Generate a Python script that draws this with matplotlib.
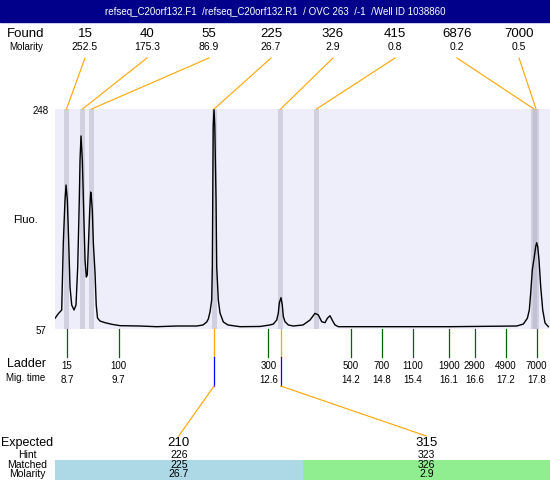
import numpy as np
import matplotlib.pyplot as plt
from matplotlib.patches import Rectangle

plt.rcParams['font.family'] = ['Liberation Sans', 'DejaVu Sans']

title = "refseq_C20orf132.F1  /refseq_C20orf132.R1  / OVC 263  /-1  /Well ID 1038860"

# electropherogram trace: migration time (s) vs fluorescence
mig_time = [8.467, 8.526, 8.597, 8.628, 8.661, 8.681, 8.706, 8.733, 8.758, 8.791,
            8.836, 8.874, 8.907, 8.938, 8.952, 8.971, 8.997, 9.024, 9.049, 9.074,
            9.093, 9.113, 9.140, 9.159, 9.171, 9.190, 9.210, 9.243, 9.266, 9.291,
            9.340, 9.436, 9.566, 9.727, 10.115, 10.438, 10.826, 11.214, 11.336, 11.407,
            11.438, 11.471, 11.504, 11.516, 11.524, 11.533, 11.549, 11.564, 11.588, 11.601,
            11.632, 11.665, 11.729, 11.820, 12.053, 12.440, 12.634, 12.698, 12.764, 12.795,
            12.814, 12.847, 12.872, 12.892, 12.925, 12.989, 13.086, 13.274, 13.409, 13.506,
            13.570, 13.636, 13.700, 13.745, 13.797, 13.849, 13.894, 13.958, 14.436, 16.122,
            17.415, 17.543, 17.621, 17.659, 17.686, 17.717, 17.737, 17.756, 17.783, 17.802,
            17.822, 17.847, 17.880, 17.919, 17.964, 18.028]
fluo = [66.3, 70.0, 73.5, 131.7, 169.0, 182.0, 169.0, 131.7, 93.5, 77.8,
        73.5, 77.8, 110.8, 169.0, 203.7, 224.6, 203.7, 157.7, 116.9, 102.1,
        103.9, 128.2, 160.3, 175.9, 171.6, 160.3, 131.7, 105.6, 77.8, 66.5,
        63.9, 62.5, 61.1, 59.9, 59.6, 59.0, 59.6, 59.6, 60.5, 63.1,
        65.7, 71.8, 82.2, 110.8, 169.0, 232.4, 248.0, 232.4, 169.0, 110.8,
        82.2, 70.9, 63.1, 60.5, 59.0, 59.2, 60.5, 61.3, 64.8, 70.9,
        79.6, 84.2, 77.8, 67.7, 63.3, 60.5, 59.6, 60.5, 64.8, 70.6,
        69.2, 63.3, 62.5, 66.3, 68.5, 63.9, 60.5, 59.0, 59.0, 59.0,
        59.6, 61.3, 66.3, 73.5, 88.3, 108.2, 114.3, 119.8, 128.5, 131.9,
        128.5, 116.9, 93.7, 73.5, 62.2, 59.0]

# found peaks
found_size = ["15", "40", "55", "225", "326", "415", "6876", "7000"]
found_molarity = ["252.5", "175.3", "86.9", "26.7", "2.9", "0.8", "0.2", "0.5"]
found_time = [8.69, 9.00, 9.175, 11.55, 12.84, 13.535, 17.75, 17.79]

# ladder
ladder_size = ["15", "100", "300", "500", "700", "1100", "1900", "2900", "4900", "7000"]
ladder_time = [8.7, 9.7, 12.6, 14.2, 14.8, 15.4, 16.1, 16.6, 17.2, 17.8]

# expected products
expected = ["210", "315"]
hint = ["226", "323"]
matched = ["225", "326"]
matched_molarity = ["26.7", "2.9"]
matched_time = [11.55, 12.84]
matched_colors = ["#add8e6", "#90ee90"]

fig = plt.figure(figsize=(5.5, 4.8), dpi=100)

# trace panel
ax = fig.add_axes([55 / 550, 151 / 480, 495 / 550, 220 / 480])
ax.set_facecolor('#eeeefa')
ax.set_xlim(8.467, 18.06)
ax.set_ylim(57, 248)
for s in ax.spines.values():
    s.set_visible(False)
ax.set_xticks([])
ax.set_yticks([])
for t in found_time:
    ax.axvspan(t - 0.05, t + 0.05, color='#b4b4c8', alpha=0.5, lw=0)
ax.plot(mig_time, fluo, color='black', lw=1.0)

# overlay in pixel coordinates for the text rows
lay = fig.add_axes([0, 0, 1, 1], zorder=3)
lay.set_xlim(0, 550)
lay.set_ylim(480, 0)
lay.axis('off')


def px(t):
    # x pixel of a migration time, through the trace axes
    return ax.transData.transform((t, 57))[0]


lay.add_patch(Rectangle((0, 0), 550, 22, color='#00008b'))
lay.text(275, 12, title, color='white', fontsize=7, ha='center', va='center')

# found row
lay.text(26, 34, "Found", fontsize=9.5, ha='center', va='center')
lay.text(26, 47, "Molarity", fontsize=7, ha='center', va='center')
for i, (sz, mol, t) in enumerate(zip(found_size, found_molarity, found_time)):
    x = 85 + 62 * i
    lay.text(x, 34, sz, fontsize=9.5, ha='center', va='center')
    lay.text(x, 47, mol, fontsize=7.5, ha='center', va='center')
    lay.plot([x, px(t)], [58, 109], color='orange', lw=0.8)

# y labels
lay.text(49, 111, "248", fontsize=7, ha='right', va='center')
lay.text(46, 331, "57", fontsize=7, ha='right', va='center')
lay.text(26, 220, "Fluo.", fontsize=8, ha='center', va='center')

# ladder
lay.text(26, 364, "Ladder", fontsize=9, ha='center', va='center')
lay.text(26, 378, "Mig. time", fontsize=7, ha='center', va='center')
for sz, t in zip(ladder_size, ladder_time):
    x = px(t)
    lay.plot([x, x], [329, 357], color='#006400', lw=0.9)
    lay.text(x, 366, sz, fontsize=7, ha='center', va='center')
    lay.text(x, 380, "%.1f" % t, fontsize=7, ha='center', va='center')

# expected products
lay.text(27, 443, "Expected", fontsize=9, ha='center', va='center')
lay.text(27, 455, "Hint", fontsize=7.5, ha='center', va='center')
lay.text(27, 465, "Matched", fontsize=7.5, ha='center', va='center')
lay.text(27, 474, "Molarity", fontsize=7.5, ha='center', va='center')
for i in range(len(expected)):
    x0 = 55 + 247.5 * i
    xc = x0 + 247.5 / 2
    lay.add_patch(Rectangle((x0, 460), 247.5, 20, color=matched_colors[i], lw=0))
    lay.text(xc, 443, expected[i], fontsize=9.5, ha='center', va='center')
    lay.text(xc, 455, hint[i], fontsize=7.5, ha='center', va='center')
    lay.text(xc, 465, matched[i], fontsize=7.5, ha='center', va='center')
    lay.text(xc, 474, matched_molarity[i], fontsize=7.5, ha='center', va='center')
    xm = px(matched_time[i])
    lay.plot([xm, xm], [329, 357], color='orange', lw=0.9)
    lay.plot([xm, xm], [357, 386], color='blue', lw=0.9)
    lay.plot([xm, xc], [386, 436], color='orange', lw=0.8)

plt.savefig('out.png', dpi=100)
